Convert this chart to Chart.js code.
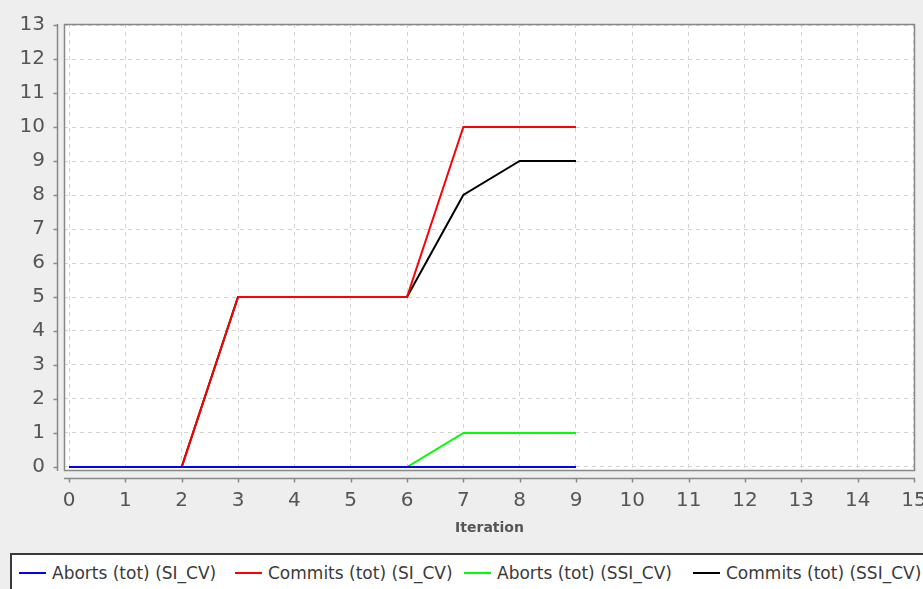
<!DOCTYPE html>
<html>
<head>
<meta charset="utf-8">
<script src="https://cdn.jsdelivr.net/npm/chart.js@4/dist/chart.umd.min.js"></script>
<style>
  html, body { margin: 0; padding: 0; background: #eeeeee; }
  #wrap { position: relative; width: 923px; height: 589px; overflow: hidden; }
  #legend { position: absolute; left: 10px; top: 553px; width: 940px; height: 60px;
            border: 2px solid #3a3a3a; background: #ffffff; }
  .item { position: absolute; top: 8px; font: 17px "DejaVu Sans", sans-serif; color: #3a3a3a; white-space: nowrap; }
  .swatch { position: absolute; top: 17px; width: 27px; height: 2px; }
</style>
</head>
<body>
<div id="wrap">
  <canvas id="chart" width="923" height="589"></canvas>
  <div id="legend"></div>
</div>
<script>
const iterations = [0, 1, 2, 3, 4, 5, 6, 7, 8, 9];
const abortsSI   = [0, 0, 0, 0, 0, 0, 0, 0, 0, 0];
const commitsSI  = [0, 0, 0, 5, 5, 5, 5, 10, 10, 10];
const abortsSSI  = [0, 0, 0, 0, 0, 0, 0, 1, 1, 1];
const commitsSSI = [0, 0, 0, 5, 5, 5, 5, 8, 9, 9];
const seriesNames = ['Aborts (tot) (SI_CV)', 'Commits (tot) (SI_CV)', 'Aborts (tot) (SSI_CV)', 'Commits (tot) (SSI_CV)'];
const seriesColors = ['#0000ff', '#ff0000', '#00ff00', '#000000'];
const xTicks = [0, 1, 2, 3, 4, 5, 6, 7, 8, 9, 10, 11, 12, 13, 14, 15];
const yTicks = [0, 1, 2, 3, 4, 5, 6, 7, 8, 9, 10, 11, 12, 13];

const toPoints = vals => vals.map((v, i) => ({ x: iterations[i], y: v }));
const allSeries = [abortsSI, commitsSI, abortsSSI, commitsSSI];

// plot background, outline and the offset axis lines
const frame = {
  id: 'frame',
  beforeDraw(chart) {
    const { ctx, chartArea: a } = chart;
    ctx.save();
    ctx.fillStyle = '#eeeeee';
    ctx.fillRect(0, 0, chart.width, chart.height);
    ctx.fillStyle = '#ffffff';
    ctx.fillRect(a.left, a.top, a.right - a.left, a.bottom - a.top);
    ctx.restore();
  },
  afterDraw(chart) {
    const { ctx, chartArea: a, scales: { x, y } } = chart;
    ctx.save();
    ctx.strokeStyle = '#888888';
    ctx.lineWidth = 1.5;
    ctx.strokeRect(a.left + 0.5, a.top + 0.5, a.right - a.left - 1, a.bottom - a.top - 1);
    ctx.beginPath();
    const ax = a.left - 6.5;
    ctx.moveTo(ax, a.top); ctx.lineTo(ax, a.bottom);
    y.ticks.forEach(t => {
      const py = Math.round(y.getPixelForValue(t.value)) + 0.5;
      ctx.moveTo(ax - 4, py); ctx.lineTo(ax, py);
    });
    const ay = a.bottom + 7.5;
    ctx.moveTo(a.left, ay); ctx.lineTo(a.right, ay);
    x.ticks.forEach(t => {
      const px = Math.round(x.getPixelForValue(t.value)) + 0.5;
      ctx.moveTo(px, ay); ctx.lineTo(px, ay + 4);
    });
    ctx.stroke();
    ctx.restore();
  }
};

new Chart(document.getElementById('chart'), {
  type: 'line',
  data: {
    datasets: allSeries.map((vals, i) => ({
      label: seriesNames[i],
      data: toPoints(vals),
      borderColor: seriesColors[i],
      backgroundColor: seriesColors[i],
      borderWidth: 2,
      pointRadius: 0,
      tension: 0,
      fill: false
    }))
  },
  options: {
    responsive: false,
    animation: false,
    devicePixelRatio: 1,
    layout: { padding: { left: 0, top: 24, right: 8, bottom: 0 } },
    plugins: { legend: { display: false }, tooltip: { enabled: false } },
    scales: {
      x: {
        type: 'linear',
        min: -0.089,
        max: 15.018,
        afterBuildTicks: s => { s.ticks = xTicks.map(v => ({ value: v })); },
        afterFit: s => { s.height = 118; s.paddingLeft = 0; s.paddingRight = 0; },
        grid: { color: '#d4d4d4', lineWidth: 1, drawTicks: false },
        border: { display: false, dash: [4, 4] },
        ticks: { padding: 18, autoSkip: false, maxRotation: 0, color: '#555555',
                 font: { family: 'DejaVu Sans', size: 20 } },
        title: { display: true, text: 'Iteration', color: '#555555',
                 font: { family: 'DejaVu Sans', size: 14, weight: 'bold' },
                 padding: { top: 0, bottom: 52 } }
      },
      y: {
        type: 'linear',
        min: -0.118,
        max: 13.03,
        afterBuildTicks: s => { s.ticks = yTicks.map(v => ({ value: v })); },
        afterFit: s => { s.width = 64; s.paddingTop = 0; s.paddingBottom = 0; },
        grid: { color: '#d4d4d4', lineWidth: 1, drawTicks: false },
        border: { display: false, dash: [4, 4] },
        ticks: { padding: 19, color: '#555555', font: { family: 'DejaVu Sans', size: 20 } }
      }
    }
  },
  plugins: [frame]
});

// legend built from the same series names and colours
const legendX = [17, 233, 462, 691];
const legend = document.getElementById('legend');
seriesNames.forEach((name, i) => {
  const sw = document.createElement('div');
  sw.className = 'swatch';
  sw.style.left = (legendX[i] - 10) + 'px';
  sw.style.background = seriesColors[i];
  legend.appendChild(sw);
  const tx = document.createElement('div');
  tx.className = 'item';
  tx.style.left = (legendX[i] - 10 + 33) + 'px';
  tx.textContent = name;
  legend.appendChild(tx);
});
</script>
</body>
</html>
